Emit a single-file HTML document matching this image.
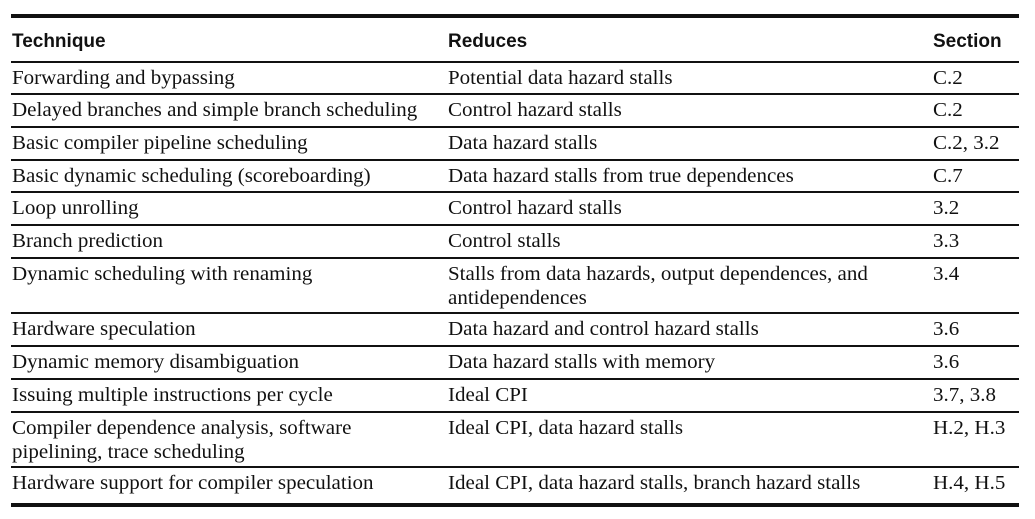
<!DOCTYPE html>
<html><head><meta charset="utf-8"><style>
html,body{margin:0;padding:0;background:#fff;width:1035px;height:519px;overflow:hidden;position:relative}
.rule{position:absolute;left:11px;width:1008px;background:#111}
.thick{height:4px}
.thin{height:2px}
.h{position:absolute;font-family:"Liberation Sans",sans-serif;font-weight:bold;font-size:19px;line-height:24px;color:#111;top:30px}
.c{position:absolute;font-family:"Liberation Serif",serif;font-size:20px;line-height:24px;color:#111;white-space:nowrap;transform:scaleX(1.05);transform-origin:0 0}
</style></head><body>
<div class="rule thick" style="top:14px"></div>
<div class="h" style="left:12px">Technique</div>
<div class="h" style="left:448px">Reduces</div>
<div class="h" style="left:933px">Section</div>
<div class="rule thin" style="top:61px"></div>

<div id="rows"></div>
<div class="rule thick" style="top:503px"></div>

<script>
const techniques=["Forwarding and bypassing","Delayed branches and simple branch scheduling","Basic compiler pipeline scheduling","Basic dynamic scheduling (scoreboarding)","Loop unrolling","Branch prediction","Dynamic scheduling with renaming","Hardware speculation","Dynamic memory disambiguation","Issuing multiple instructions per cycle","Compiler dependence analysis, software<br>pipelining, trace scheduling","Hardware support for compiler speculation"];
const reduces=["Potential data hazard stalls","Control hazard stalls","Data hazard stalls","Data hazard stalls from true dependences","Control hazard stalls","Control stalls","Stalls from data hazards, output dependences, and<br>antidependences","Data hazard and control hazard stalls","Data hazard stalls with memory","Ideal CPI","Ideal CPI, data hazard stalls","Ideal CPI, data hazard stalls, branch hazard stalls"];
const sections=["C.2","C.2","C.2, 3.2","C.7","3.2","3.3","3.4","3.6","3.6","3.7, 3.8","H.2, H.3","H.4, H.5"];
const rowTops=[62,94,127,159.5,192,225,258,313,346,379,411.5,467];
const root=document.body;
for(let i=0;i<techniques.length;i++){
  const t=rowTops[i];
  const cols=[[12,techniques[i],'technique'],[448,reduces[i],'reduces'],[933,sections[i],'section']];
  for(const [x,txt,nm] of cols){
    const d=document.createElement('div');
    d.className='c';
    d.style.left=x+'px';d.style.top=(t+4)+'px';
    d.innerHTML=txt;
    
    
    root.appendChild(d);
  }
  if(i<techniques.length-1){
    const r=document.createElement('div');
    r.className='rule thin';
    r.style.top=(rowTops[i+1]-1)+'px';
    
    
    root.appendChild(r);
  }
}
</script>
</body></html>
